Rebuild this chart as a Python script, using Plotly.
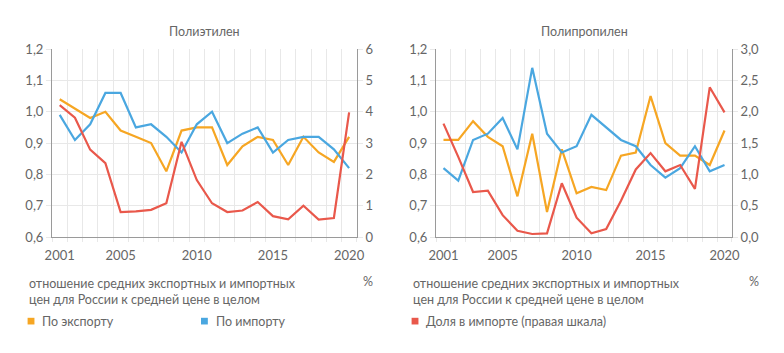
import plotly.graph_objects as go

years = list(range(2001, 2021))

pe_export = [1.04, 1.01, 0.98, 1.00, 0.94, 0.92, 0.90, 0.81, 0.94, 0.95,
             0.95, 0.83, 0.89, 0.92, 0.91, 0.83, 0.92, 0.87, 0.84, 0.92]
pe_import = [0.99, 0.91, 0.96, 1.06, 1.06, 0.95, 0.96, 0.92, 0.87, 0.96,
             1.00, 0.90, 0.93, 0.95, 0.87, 0.91, 0.92, 0.92, 0.88, 0.82]
pe_share = [4.21, 3.81, 2.79, 2.36, 0.80, 0.82, 0.87, 1.08, 3.04, 1.82,
            1.08, 0.80, 0.85, 1.12, 0.67, 0.57, 1.00, 0.56, 0.61, 3.98]

pp_export = [0.91, 0.91, 0.97, 0.92, 0.89, 0.73, 0.93, 0.68, 0.88, 0.74,
             0.76, 0.75, 0.86, 0.87, 1.05, 0.90, 0.86, 0.86, 0.83, 0.94]
pp_import = [0.82, 0.78, 0.91, 0.93, 0.98, 0.88, 1.14, 0.93, 0.87, 0.89,
             0.99, 0.95, 0.91, 0.89, 0.83, 0.79, 0.82, 0.89, 0.81, 0.83]
pp_share = [1.81, 1.28, 0.72, 0.74, 0.35, 0.10, 0.05, 0.06, 0.86, 0.31,
            0.06, 0.13, 0.58, 1.08, 1.34, 1.05, 1.15, 0.77, 2.39, 1.99]

x_tickvals = [2001, 2005, 2010, 2015, 2020]
x_ticktext = ["2001", "2005", "2010", "2015", "2020"]

titles = ["Полиэтилен", "Полипропилен"]
legend_labels = ["По экспорту", "По импорту", "Доля в импорте (правая шкала)"]
note_text = "отношение средних экспортных и импортных<br>цен для России к средней цене в целом"

C_EXP = "#f6a623"
C_IMP = "#4aa7e0"
C_SHR = "#e9584b"
GRID = "#e8e8e8"
AXC = "#9a9a9a"
TXT = "#666666"
FONT = "Lato, 'Open Sans', sans-serif"

W, H = 784, 353
y_dom = [1 - 240 / H, 1 - 43 / H]
left_dom = [45 / W, 356 / W]
right_dom = [437 / W, 739 / W]

fig = go.Figure()

def add_panel(xa, ya, ya2, exp, imp, shr):
    fig.add_trace(go.Scatter(x=years, y=exp, xaxis=xa, yaxis=ya, mode="lines",
                             line=dict(color=C_EXP, width=2.2), showlegend=False))
    fig.add_trace(go.Scatter(x=years, y=imp, xaxis=xa, yaxis=ya, mode="lines",
                             line=dict(color=C_IMP, width=2.2), showlegend=False))
    fig.add_trace(go.Scatter(x=years, y=shr, xaxis=xa, yaxis=ya2, mode="lines",
                             line=dict(color=C_SHR, width=2.2), showlegend=False))

add_panel("x", "y", "y2", pe_export, pe_import, pe_share)
add_panel("x2", "y3", "y4", pp_export, pp_import, pp_share)

xcommon = dict(range=[2000.5, 2020.5], tickvals=x_tickvals, ticktext=x_ticktext,
               showgrid=False, showline=True, linecolor=AXC, linewidth=1.2,
               ticks="", zeroline=False, ticklabelstandoff=6,
               tickfont=dict(size=13, color=TXT, family=FONT),
               minor=dict(tick0=2000.5, dtick=1, showgrid=True, gridcolor=GRID,
                          gridwidth=1, ticks="outside", ticklen=4, tickcolor=GRID))
yleft = dict(range=[0.6, 1.2], tickvals=[0.6, 0.7, 0.8, 0.9, 1.0, 1.1, 1.2],
             tickformat=".1f", showgrid=True, gridcolor=GRID, gridwidth=1,
             showline=True, linecolor=AXC, linewidth=1.2, zeroline=False,
             ticks="outside", ticklen=5, tickcolor=GRID,
             tickfont=dict(size=13, color=TXT, family=FONT), domain=y_dom)

fig.update_layout(
    width=W, height=H, margin=dict(l=0, r=0, t=0, b=0),
    paper_bgcolor="white", plot_bgcolor="white", separators=", ",
    font=dict(family=FONT, color=TXT),
    xaxis=dict(domain=left_dom, anchor="y", **xcommon),
    xaxis2=dict(domain=right_dom, anchor="y3", **xcommon),
    yaxis=dict(anchor="x", **yleft),
    yaxis2=dict(anchor="x", overlaying="y", side="right", range=[0, 6], dtick=1,
                tickformat="d", showgrid=False, showline=True, linecolor=AXC,
                linewidth=1.2, zeroline=False, ticks="outside", ticklen=5,
                tickcolor=GRID, tickfont=dict(size=13, color=TXT, family=FONT)),
    yaxis3=dict(anchor="x2", **yleft),
    yaxis4=dict(anchor="x2", overlaying="y3", side="right", range=[0, 3], dtick=0.5,
                tickformat=".1f", showgrid=False, showline=True, linecolor=AXC,
                linewidth=1.2, zeroline=False, ticks="outside", ticklen=5,
                tickcolor=GRID, tickfont=dict(size=13, color=TXT, family=FONT)),
)

ann = []
for cx, t in zip([sum(left_dom) / 2, sum(right_dom) / 2], titles):
    ann.append(dict(x=cx, y=1 - 25 / H, xref="paper", yref="paper", text=t,
                    showarrow=False, xanchor="center", yanchor="middle",
                    font=dict(size=12.5, color=TXT, family=FONT)))
for lx, px in [(19, 368), (411, 762)]:
    ann.append(dict(x=lx / W, y=1 - 279 / H, xref="paper", yref="paper",
                    text=note_text, showarrow=False, xanchor="left", yanchor="top",
                    align="left", font=dict(size=12.5, color=TXT, family=FONT)))
    ann.append(dict(x=px / W, y=1 - 286 / H, xref="paper", yref="paper", text="%",
                    showarrow=False, xanchor="center", yanchor="middle",
                    font=dict(size=12.5, color=TXT, family=FONT)))

shapes = []
for sx, col, lab in [(20, C_EXP, legend_labels[0]), (197, C_IMP, legend_labels[1]),
                     (412, C_SHR, legend_labels[2])]:
    shapes.append(dict(type="rect", xref="paper", yref="paper",
                       x0=sx / W, x1=(sx + 7) / W, y0=1 - 331.5 / H, y1=1 - 324.5 / H,
                       fillcolor=col, line=dict(width=0)))
    ann.append(dict(x=(sx + 13) / W, y=1 - 328 / H, xref="paper", yref="paper",
                    text=lab, showarrow=False, xanchor="left", yanchor="middle",
                    font=dict(size=12.5, color=TXT, family=FONT)))

fig.update_layout(annotations=ann, shapes=shapes)
fig.write_html("out.html")
